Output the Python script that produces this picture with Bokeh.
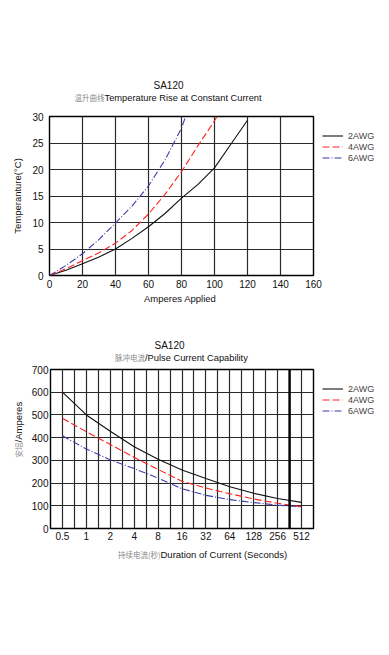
import math
from bokeh.plotting import figure
from bokeh.layouts import column, row
from bokeh.models import (Range1d, FixedTicker, Legend, LegendItem, Label, Span)
from bokeh.embed import file_html
from bokeh.resources import INLINE

# ---------------- data: temperature rise ----------------
amps_2awg = [0, 10, 20, 30, 40, 50, 60, 70, 80, 90, 100, 110, 120]
temp_2awg = [0, 1.0, 2.2, 3.5, 5.0, 7.0, 9.2, 11.7, 14.6, 17.2, 20.3, 24.8, 29.3]
amps_4awg = [0, 10, 20, 30, 40, 50, 60, 70, 80, 90, 100, 101.6]
temp_4awg = [0, 1.3, 2.8, 4.3, 6.1, 8.5, 11.6, 15.3, 19.6, 24.5, 29.2, 30]
amps_6awg = [0, 10, 20, 30, 40, 50, 60, 70, 80, 82.5]
temp_6awg = [0, 1.9, 4.1, 6.8, 9.9, 13.1, 16.9, 21.8, 27.8, 30]
top_x_ticks = [0, 20, 40, 60, 80, 100, 120, 140, 160]
top_y_ticks = [0, 5, 10, 15, 20, 25, 30]

# ---------------- data: pulse current ----------------
duration_s = [0.5, 1, 2, 4, 8, 16, 32, 64, 128, 256, 512]
duration_labels = ["0.5", "1", "2", "4", "8", "16", "32", "64", "128", "256", "512"]
pulse_2awg = [600, 500, 428, 360, 305, 258, 220, 184, 155, 132, 115]
pulse_4awg = [485, 426, 370, 313, 260, 208, 178, 153, 130, 111, 96]
pulse_6awg = [408, 350, 302, 264, 222, 175, 146, 127, 114, 103, 95]
bottom_y_ticks = [0, 100, 200, 300, 400, 500, 600, 700]
series_names = ["2AWG", "4AWG", "6AWG"]

FONT = "'Liberation Sans', 'Noto Sans CJK SC'"
CJK = "'Noto Sans CJK SC'"
GRID = "#2a2a2a"
C_BLACK = "#111111"
C_RED = "#ff2020"
C_BLUE = "#3c3cae"
CJK_GRAY = "#8a8a8a"
SERIES_STYLE = [dict(line_color=C_BLACK, line_width=1.1),
                dict(line_color=C_RED, line_width=1.1, line_dash="7 3"),
                dict(line_color=C_BLUE, line_width=1.1, line_dash="7 2 1 2")]


def style(p, xstand, ystand):
    p.outline_line_color = "black"
    p.outline_line_width = 1.4
    p.grid.grid_line_color = GRID
    p.grid.grid_line_width = 1.2
    for ax in p.axis:
        ax.axis_line_color = None
        ax.major_tick_line_color = None
        ax.minor_tick_line_color = None
        ax.major_tick_out = 0
        ax.major_tick_in = 0
        ax.minor_tick_out = 0
        ax.major_label_text_font = FONT
        ax.major_label_text_font_size = "10px"
        ax.major_label_text_color = "#111111"
        ax.axis_label_text_font = FONT
        ax.axis_label_text_font_size = "9.5px"
        ax.axis_label_text_font_style = "normal"
        ax.axis_label_text_color = "#111111"
    p.xaxis.major_label_standoff = xstand
    p.yaxis.major_label_standoff = ystand


def strip(width, height):
    f = figure(width=width, height=height, x_range=Range1d(0, width), y_range=Range1d(0, height),
               output_backend="svg", toolbar_location=None, min_border=0,
               x_axis_location=None, y_axis_location=None, outline_line_color=None)
    f.grid.visible = False
    return f


def legend_block(top_gap, height):
    f = strip(59, height - top_gap)
    nan = float("nan")
    rs = [f.line(x=[nan], y=[nan], **st) for st in SERIES_STYLE]
    lg = Legend(items=[LegendItem(label=n, renderers=[r]) for n, r in zip(series_names, rs)],
                location="top_left", padding=0, margin=0, spacing=0,
                glyph_width=21, glyph_height=11, label_height=11, label_standoff=5,
                label_text_font=FONT, label_text_font_size="9px",
                border_line_color=None, background_fill_alpha=0)
    f.add_layout(lg)
    return column(strip(59, top_gap), f, spacing=0)


def lab(p, text, x, y, align="center", font=FONT, size="10px", color="#111111", angle=0):
    p.add_layout(Label(x=x, y=y, x_units="screen", y_units="screen", text=text,
                       text_align=align, text_baseline="middle", text_font=font,
                       text_font_size=size, text_color=color, angle=angle))


W = 381

# ---------------- top header ----------------
h1 = strip(W, 106)
lab(h1, "SA120", 168, 21)
lab(h1, "Temperature  Rise  at  Constant  Current", 104, 9, align="left", size="9.3px")
lab(h1, "温升曲线", 104, 9, align="right", font=CJK, size="7.5px", color=CJK_GRAY)

# ---------------- top chart ----------------
p1 = figure(width=322, height=209, x_range=Range1d(0, 160), y_range=Range1d(0, 30),
            output_backend="svg", toolbar_location=None,
            min_border_left=49, min_border_right=9, min_border_top=10, min_border_bottom=40)
p1.xaxis.ticker = FixedTicker(ticks=top_x_ticks)
p1.yaxis.ticker = FixedTicker(ticks=top_y_ticks)
p1.xgrid.ticker = FixedTicker(ticks=top_x_ticks)
p1.ygrid.ticker = FixedTicker(ticks=top_y_ticks)
p1.xaxis.axis_label = "Amperes  Applied"
p1.yaxis.axis_label = "Temperanture(°C)"
style(p1, 4, 6)
p1.xaxis.axis_label_standoff = 2
p1.yaxis.axis_label_standoff = 6
p1.line(amps_2awg, temp_2awg, **SERIES_STYLE[0])
p1.line(amps_4awg, temp_4awg, **SERIES_STYLE[1])
p1.line(amps_6awg, temp_6awg, **SERIES_STYLE[2])
lg1 = legend_block(24, 209)

# ---------------- bottom header ----------------
h2 = strip(W, 48)
lab(h2, "SA120", 169, 18)
lab(h2, "/Pulse  Current  Capability", 144.5, 6, align="left", size="9.3px")
lab(h2, "脉冲电流", 144.5, 6, align="right", font=CJK, size="7.5px", color=CJK_GRAY)

# ---------------- bottom chart ----------------
x_lo = duration_s[0] / math.sqrt(2)
x_hi = duration_s[-1] * math.sqrt(2)
half_steps = [duration_s[0] * 2 ** (k / 2) for k in range(0, 21)]
p2 = figure(width=294, height=182, x_axis_type="log", x_range=Range1d(x_lo, x_hi),
            y_range=Range1d(0, 700), output_backend="svg", toolbar_location=None,
            min_border_left=21, min_border_right=9, min_border_top=6, min_border_bottom=17)
p2.xaxis.ticker = FixedTicker(ticks=duration_s)
p2.xaxis.major_label_overrides = {v: t for v, t in zip(duration_s, duration_labels)}
p2.yaxis.ticker = FixedTicker(ticks=bottom_y_ticks)
p2.xgrid.ticker = FixedTicker(ticks=half_steps)
p2.ygrid.ticker = FixedTicker(ticks=bottom_y_ticks)
style(p2, 3, 2)
p2.add_layout(Span(location=half_steps[-2], dimension="height", line_color="black", line_width=2.4))
p2.line(duration_s, pulse_2awg, **SERIES_STYLE[0])
p2.line(duration_s, pulse_4awg, **SERIES_STYLE[1])
p2.line(duration_s, pulse_6awg, **SERIES_STYLE[2])
lg2 = legend_block(20, 182)

# y-axis label strip for bottom chart
s2 = strip(28, 182)
lab(s2, "/Amperes", 18, 86, align="left", size="9.5px", angle=math.pi / 2)
lab(s2, "安培", 18, 86, align="right", font=CJK, size="7.5px", color=CJK_GRAY, angle=math.pi / 2)

# ---------------- bottom footer ----------------
f2 = strip(W, 22)
lab(f2, "Duration  of  Current  (Seconds)", 160, 13, align="left", size="9.5px")
lab(f2, "持续电流(秒)", 160, 13, align="right", font=CJK, size="7.5px", color=CJK_GRAY)

layout = column(h1, row(p1, lg1, spacing=0), h2, row(s2, p2, lg2, spacing=0), f2, spacing=0)
open("out.html", "w").write(file_html(layout, INLINE))
